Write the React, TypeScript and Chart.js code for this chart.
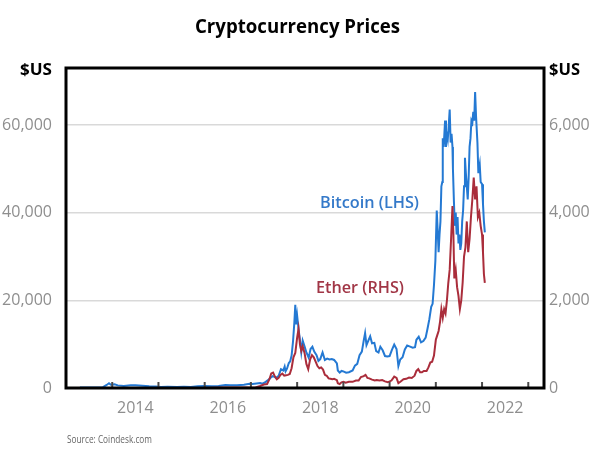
import React, { useEffect, useRef } from "react";
import { Chart, registerables } from "chart.js";

Chart.register(...registerables);

const title = "Cryptocurrency Prices";
const source = "Source: Coindesk.com";
const unitLabel = "$US";
const btcLabel = "Bitcoin (LHS)";
const ethLabel = "Ether (RHS)";

const leftTicks = [0, 20000, 40000, 60000];
const rightTicks = [0, 2000, 4000, 6000];
const yearLabels = [2014, 2016, 2018, 2020, 2022];
const yearTickMarks = [2014, 2015, 2016, 2017, 2018, 2019, 2020, 2021, 2022, 2023];

const btcDates = [
  2013.30, 2013.50, 2013.70, 2013.80, 2013.88, 2013.93, 2013.97, 2014.05, 2014.12, 2014.25,
  2014.40, 2014.50, 2014.65, 2014.80, 2014.95, 2015.05, 2015.20, 2015.40, 2015.55, 2015.70,
  2015.85, 2016.00, 2016.15, 2016.30, 2016.45, 2016.55, 2016.70, 2016.85, 2016.97, 2017.03,
  2017.12, 2017.20, 2017.25, 2017.30, 2017.37, 2017.42, 2017.47, 2017.52, 2017.55, 2017.60,
  2017.65, 2017.70, 2017.73, 2017.75, 2017.78, 2017.82, 2017.85, 2017.88, 2017.91, 2017.94,
  2017.96, 2017.98, 2018.00, 2018.03, 2018.06, 2018.09, 2018.12, 2018.16, 2018.20, 2018.25,
  2018.29, 2018.33, 2018.37, 2018.42, 2018.46, 2018.50, 2018.55, 2018.60, 2018.65, 2018.70,
  2018.75, 2018.80, 2018.86, 2018.88, 2018.92, 2018.96, 2019.00, 2019.06, 2019.12, 2019.20,
  2019.25, 2019.30, 2019.35, 2019.40, 2019.44, 2019.47, 2019.50, 2019.54, 2019.58, 2019.62,
  2019.67, 2019.71, 2019.76, 2019.80, 2019.85, 2019.90, 2019.95, 2020.00, 2020.05, 2020.10,
  2020.15, 2020.19, 2020.23, 2020.28, 2020.33, 2020.38, 2020.43, 2020.50, 2020.55, 2020.58,
  2020.63, 2020.68, 2020.73, 2020.78, 2020.82, 2020.86, 2020.90, 2020.93, 2020.96, 2020.99,
  2021.02, 2021.04, 2021.06, 2021.08, 2021.10, 2021.12, 2021.14, 2021.15, 2021.17, 2021.20,
  2021.22, 2021.24, 2021.26, 2021.28, 2021.30, 2021.32, 2021.34, 2021.36, 2021.37, 2021.39,
  2021.41, 2021.43, 2021.45, 2021.47, 2021.49, 2021.51, 2021.53, 2021.55, 2021.57, 2021.59,
  2021.61, 2021.63, 2021.65, 2021.67, 2021.69, 2021.71, 2021.73, 2021.75, 2021.77, 2021.79,
  2021.81, 2021.83, 2021.85, 2021.87, 2021.90, 2021.92, 2021.95, 2021.97, 2022.00, 2022.02,
  2022.04, 2022.06,
];
const btcPrices = [
  120, 100, 130, 200, 700, 1100, 750, 850, 600, 450,
  620, 600, 500, 380, 320, 220, 260, 240, 280, 230,
  380, 430, 420, 450, 700, 650, 610, 730, 950, 900,
  1050, 1150, 1000, 1250, 1800, 2300, 2700, 2500, 2300, 2800,
  4300, 4000, 4900, 3800, 4400, 5700, 6100, 7400, 10500, 15000,
  19000, 14500, 16500, 13500, 11000, 8200, 10800, 9500, 8100, 6900,
  8900, 9400, 8300, 7500, 6200, 6600, 8100, 6400, 6700, 6500,
  6600, 6400, 5600, 4000, 3500, 3900, 3800, 3500, 3600, 4000,
  5100, 5500, 7500, 8300, 10800, 12500, 9800, 10800, 11800, 10200,
  10300, 8400, 8100, 9400, 8600, 7300, 7200, 7300, 8700, 9900,
  8900, 5000, 6500, 7000, 8800, 9700, 9500, 9200, 9300, 11000,
  11700, 10400, 10700, 11500, 13500, 15700, 18500, 19200, 23500, 29000,
  40500, 36000, 31000, 35000, 38000, 46000, 47000, 57000, 55000, 61000,
  55000, 58500, 57000, 60000, 63500, 56000, 58000, 55000, 50000, 43000,
  37000, 40000, 35000, 39000, 33000, 35000, 31500, 33000, 38000, 40500,
  46000, 52500, 49000, 46000, 43000, 48000, 55000, 57000, 61000, 60500,
  63000, 61000, 67500, 62000, 56000, 49000, 51000, 47000, 46500, 42000,
  38000, 35500,
];

const ethDates = [
  2015.60, 2015.80, 2016.00, 2016.20, 2016.40, 2016.50, 2016.70, 2016.90, 2017.00, 2017.10,
  2017.20, 2017.28, 2017.35, 2017.40, 2017.44, 2017.48, 2017.52, 2017.56, 2017.60, 2017.64,
  2017.68, 2017.72, 2017.76, 2017.80, 2017.84, 2017.88, 2017.92, 2017.96, 2018.00, 2018.03,
  2018.06, 2018.09, 2018.12, 2018.16, 2018.20, 2018.24, 2018.28, 2018.32, 2018.36, 2018.40,
  2018.44, 2018.48, 2018.52, 2018.56, 2018.60, 2018.64, 2018.68, 2018.72, 2018.76, 2018.80,
  2018.86, 2018.88, 2018.92, 2018.96, 2019.00, 2019.05, 2019.12, 2019.20, 2019.27, 2019.33,
  2019.38, 2019.44, 2019.48, 2019.52, 2019.56, 2019.62, 2019.68, 2019.72, 2019.78, 2019.84,
  2019.90, 2019.96, 2020.04, 2020.10, 2020.15, 2020.19, 2020.24, 2020.30, 2020.36, 2020.42,
  2020.48, 2020.54, 2020.58, 2020.62, 2020.66, 2020.70, 2020.74, 2020.80, 2020.84, 2020.88,
  2020.92, 2020.96, 2021.00, 2021.03, 2021.06, 2021.09, 2021.12, 2021.15, 2021.18, 2021.21,
  2021.24, 2021.27, 2021.30, 2021.33, 2021.36, 2021.38, 2021.40, 2021.43, 2021.46, 2021.49,
  2021.52, 2021.55, 2021.58, 2021.61, 2021.64, 2021.67, 2021.70, 2021.73, 2021.76, 2021.79,
  2021.82, 2021.85, 2021.88, 2021.91, 2021.94, 2021.97, 2022.00, 2022.02, 2022.04, 2022.06,
];
const ethPrices = [
  1, 1, 1, 8, 13, 12, 12, 9, 8, 12,
  45, 80, 90, 200, 330, 350, 260, 200, 230, 300,
  330, 280, 290, 300, 320, 450, 700, 800, 1150, 1350,
  1000, 850, 950, 800, 550, 430, 650, 750, 700, 600,
  500, 450, 470, 420, 300, 280, 220, 210, 200, 210,
  180, 110, 90, 130, 140, 120, 140, 140, 170, 170,
  250, 270, 300, 230, 220, 190, 170, 180, 170, 180,
  150, 130, 170, 260, 230, 110, 150, 200, 210, 240,
  230, 280, 390, 430, 360, 360, 390, 390, 470, 580,
  600, 740, 1100, 1200, 1300, 1500, 1800, 1600, 1800, 1700,
  2000, 2400, 2700, 3400, 4150, 3500, 2500, 2700, 2300, 2100,
  1800, 2000, 2400, 3000, 3200, 3800, 3100, 3400, 3900, 4300,
  4800, 4300, 4600, 3900, 4000, 3700, 3500, 3100, 2600, 2400,
];

const BTC_COLOR = "#2479d3";
const ETH_COLOR = "#aa2d3b";
const TICK_GRAY = "#8e8e8e";
const FONT = "'Open Sans', 'DejaVu Sans', sans-serif";

function fitText(
  ctx: CanvasRenderingContext2D,
  text: string,
  x: number,
  y: number,
  font: string,
  width: number,
  align: "left" | "right" | "center",
  color: string
) {
  ctx.save();
  ctx.font = font;
  ctx.fillStyle = color;
  ctx.textBaseline = "alphabetic";
  ctx.textAlign = align;
  const w = ctx.measureText(text).width;
  const sx = w > 0 ? width / w : 1;
  ctx.translate(x, y);
  ctx.scale(sx, 1);
  ctx.fillText(text, 0, 0);
  ctx.restore();
}

const decorPlugin = {
  id: "decor",
  afterDatasetsDraw(chart: any) {
    const { ctx, chartArea, scales } = chart;
    const xs = scales.x;
    ctx.save();
    ctx.strokeStyle = "#4a4a4a";
    ctx.lineWidth = 2;
    for (const yr of yearTickMarks) {
      const px = xs.getPixelForValue(yr);
      ctx.beginPath();
      ctx.moveTo(px, chartArea.bottom);
      ctx.lineTo(px, chartArea.bottom - 6);
      ctx.stroke();
    }
    ctx.strokeStyle = "#000";
    ctx.lineWidth = 3;
    ctx.strokeRect(
      chartArea.left,
      chartArea.top,
      chartArea.right - chartArea.left,
      chartArea.bottom - chartArea.top
    );
    ctx.restore();
  },
  afterDraw(chart: any) {
    const { ctx, chartArea } = chart;
    fitText(ctx, title, 297.5, 33, `bold 20px ${FONT}`, 205, "center", "#000");
    fitText(ctx, unitLabel, chartArea.left - 14, 75, `bold 16px ${FONT}`, 32, "right", "#000");
    fitText(ctx, unitLabel, chartArea.right + 5, 75, `bold 16px ${FONT}`, 31, "left", "#000");
    fitText(ctx, btcLabel, 320, 208, `600 16px ${FONT}`, 99, "left", "#3479c9");
    fitText(ctx, ethLabel, 316, 293, `600 16px ${FONT}`, 88, "left", "#a13646");
    fitText(ctx, source, 67, 443, `10px ${FONT}`, 85, "left", "#666");
  },
};

export default function App() {
  const ref = useRef<HTMLCanvasElement | null>(null);

  useEffect(() => {
    if (!ref.current) return;
    const chart = new Chart(ref.current, {
      type: "line",
      data: {
        datasets: [
          {
            label: "Ether",
            data: ethDates.map((d, i) => ({ x: d, y: ethPrices[i] })),
            yAxisID: "y2",
            borderColor: ETH_COLOR,
            borderWidth: 2,
            pointRadius: 0,
            tension: 0,
            order: 0,
          },
          {
            label: "Bitcoin",
            data: btcDates.map((d, i) => ({ x: d, y: btcPrices[i] })),
            yAxisID: "y",
            borderColor: BTC_COLOR,
            borderWidth: 2,
            pointRadius: 0,
            tension: 0,
            order: 1,
          },
        ],
      },
      options: {
        responsive: false,
        animation: false,
        layout: { padding: { top: 68, left: 0, right: 0, bottom: 0 } },
        plugins: {
          legend: { display: false },
          title: { display: false },
          tooltip: { enabled: false },
        },
        scales: {
          x: {
            type: "linear",
            min: 2013,
            max: 2023.34,
            grid: { display: false, drawTicks: false },
            border: { display: false },
            afterBuildTicks: (scale: any) => {
              scale.ticks = yearLabels.map((v) => ({ value: v + 0.5 }));
            },
            afterFit: (scale: any) => {
              scale.height = 62;
            },
            ticks: {
              padding: 11,
              maxRotation: 0,
              autoSkip: false,
              color: TICK_GRAY,
              font: { family: FONT, size: 16 },
              callback: (v: any) => String(Math.floor(Number(v))),
            },
          },
          y: {
            position: "left",
            min: 0,
            max: 73000,
            afterBuildTicks: (scale: any) => {
              scale.ticks = leftTicks.map((v) => ({ value: v }));
            },
            afterFit: (scale: any) => {
              scale.width = 66;
            },
            grid: {
              drawTicks: false,
              lineWidth: 1.5,
              color: (c: any) => (c.tick && c.tick.value === 0 ? "rgba(0,0,0,0)" : "#d9d9d9"),
            },
            border: { display: false },
            ticks: {
              padding: 14,
              color: TICK_GRAY,
              font: { family: FONT, size: 16 },
              callback: (v: any) => Number(v).toLocaleString("en-US"),
            },
          },
          y2: {
            position: "right",
            min: 0,
            max: 7300,
            afterBuildTicks: (scale: any) => {
              scale.ticks = rightTicks.map((v) => ({ value: v }));
            },
            afterFit: (scale: any) => {
              scale.width = 56;
            },
            grid: { display: false, drawTicks: false },
            border: { display: false },
            ticks: {
              padding: 5,
              color: TICK_GRAY,
              font: { family: FONT, size: 16 },
              callback: (v: any) => Number(v).toLocaleString("en-US"),
            },
          },
        },
      },
      plugins: [decorPlugin],
    } as any);
    return () => chart.destroy();
  }, []);

  return (
    <div style={{ position: "fixed", left: 0, top: 0, width: 600, height: 450, background: "#fff" }}>
      <canvas ref={ref} width={600} height={450} style={{ width: 600, height: 450 }} />
    </div>
  );
}
